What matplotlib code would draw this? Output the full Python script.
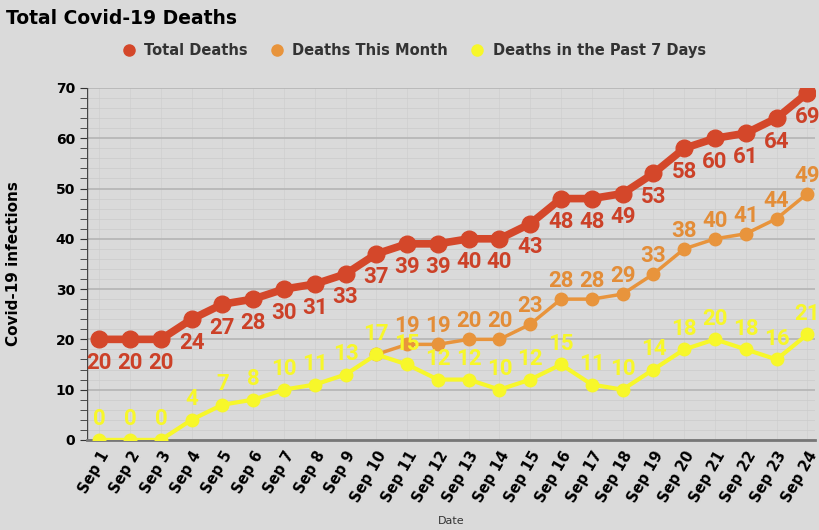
import numpy as np
import matplotlib.pyplot as plt

dates = ['Sep %d' % d for d in range(1, 25)]
total = [20, 20, 20, 24, 27, 28, 30, 31, 33, 37, 39, 39, 40, 40, 43, 48, 48, 49, 53, 58, 60, 61, 64, 69]
month = [np.nan] * 9 + [17, 19, 19, 20, 20, 23, 28, 28, 29, 33, 38, 40, 41, 44, 49]
week = [0, 0, 0, 4, 7, 8, 10, 11, 13, 17, 15, 12, 12, 10, 12, 15, 11, 10, 14, 18, 20, 18, 16, 21]

bg = '#dadada'
red = '#d4472a'
orange = '#e8943c'
yellow = '#f7f72a'

fig = plt.figure(figsize=(8.2, 5.3), dpi=100, facecolor=bg)
ax = fig.add_axes([0.106, 0.17, 0.888, 0.664], facecolor=bg)
x = np.arange(len(dates))

# faint leader lines under each point
for i in x:
    ax.axvline(i, color='#cfcfcf', lw=0.5, zorder=0)
ax.set_yticks(np.arange(0, 71, 2), minor=True)
ax.grid(axis='y', which='minor', color='#cdcdcd', lw=0.6, zorder=0)
ax.grid(axis='y', which='major', color='#b4b4b4', lw=1.2, zorder=0)

ax.plot(x, total, color=red, lw=5.5, marker='o', ms=12, zorder=3, label='Total Deaths')
ax.plot(x, month, color=orange, lw=2.5, marker='o', ms=9, zorder=2, label='Deaths This Month')
ax.plot(x, week, color=yellow, lw=3, marker='o', ms=9, zorder=4, label='Deaths in the Past 7 Days')

lab_font = {'family': ['Roboto', 'DejaVu Sans'], 'weight': 'bold', 'size': 16}
for i, v in enumerate(total):
    ax.annotate(str(v), (i, v), xytext=(0, -9), textcoords='offset points', ha='center', va='top',
                color='#cc4128', zorder=5, **lab_font)
for i, v in enumerate(month):
    if i >= 10:
        ax.annotate(str(v), (i, v), xytext=(0, 5), textcoords='offset points', ha='center', va='bottom',
                    color='#e38d38', zorder=5, **lab_font)
for i, v in enumerate(week):
    ax.annotate(str(v), (i, v), xytext=(0, 7), textcoords='offset points', ha='center', va='bottom',
                color=yellow, zorder=6, **lab_font)

ax.set_xlim(-0.4, len(dates) - 0.75)
ax.set_ylim(0, 70)
ax.set_yticks(np.arange(0, 71, 10))
ax.set_xticks(x)
ax.set_xticklabels(dates, rotation=60, ha='right', rotation_mode='anchor', fontsize=10.5, fontweight='bold')
for lab in ax.get_yticklabels():
    lab.set_fontweight('bold')
    lab.set_fontsize(10)
ax.tick_params(axis='y', which='both', color='#333333', length=5)
ax.tick_params(axis='x', length=0, pad=6)
for s in ['top', 'right', 'left']:
    ax.spines[s].set_visible(False)
ax.spines['bottom'].set_color('#777777')
ax.spines['bottom'].set_linewidth(2)
ax.axvline(-0.4, color='#444444', lw=1)

ax.set_ylabel('Covid-19 infections', fontsize=11, fontweight='bold')
ax.yaxis.set_label_coords(-0.09, 0.5)
fig.text(0.55, 0.012, 'Date', fontsize=8, color='#333333', ha='center')
fig.text(0.007, 0.955, 'Total Covid-19 Deaths', fontsize=13.5, fontweight='heavy', color='black')

handles = [plt.Line2D([], [], ls='', marker='o', ms=8, color=c) for c in (red, orange, yellow)]
fig.legend(handles, ['Total Deaths', 'Deaths This Month', 'Deaths in the Past 7 Days'],
           loc='center', bbox_to_anchor=(0.5, 0.905), ncol=3, frameon=False,
           handletextpad=0.05, columnspacing=1.0,
           prop={'weight': 'bold', 'size': 10.5}, labelcolor='#333333')

fig.savefig('out.png', dpi=100, facecolor=bg)
